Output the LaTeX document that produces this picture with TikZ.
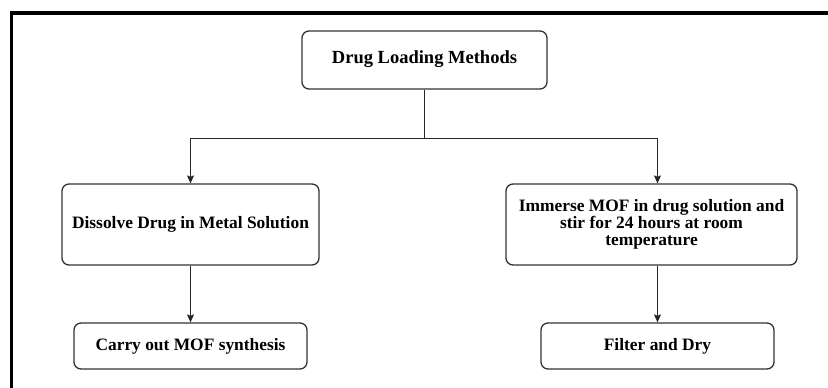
\documentclass[tikz,border=0pt]{standalone}
\usepackage{fontspec}
\setmainfont{Liberation Serif}
\usetikzlibrary{arrows.meta,calc}
\begin{document}
\begin{tikzpicture}[x=1pt,y=-1pt,
  box/.style={draw=black!80,line width=1.3pt,rounded corners=7pt,fill=white,align=center,
    font=\fontsize{17.4}{16.7}\selectfont\bfseries,inner sep=0pt},
  arrow/.style={draw=black!85,line width=1pt,-{Stealth[length=8pt,width=7pt,inset=1.5pt]}},
  link/.style={draw=black!85,line width=1pt}]
\useasboundingbox (0,0) rectangle (828,388);
% frame
\draw[line width=3.5pt,line cap=rect] (11.5,388) -- (11.5,13) -- (828,13);
% nodes
\node[box,minimum width=245pt,minimum height=58pt] (top) at (424.5,60)
  {\fontsize{18.5}{18}\selectfont\raisebox{5pt}{Drug Loading Methods}};
\node[box,minimum width=257pt,minimum height=81pt] (l2) at (190.5,224.5)
  {Dissolve Drug in Metal Solution};
\node[box,minimum width=291pt,minimum height=81pt] (r2) at (651.5,224.5)
  {Immerse MOF in drug solution and\\stir for 24 hours at room\\temperature};
\node[box,minimum width=233pt,minimum height=46pt] (l3) at (190.5,346)
  {Carry out MOF synthesis};
\node[box,minimum width=233pt,minimum height=46pt] (r3) at (657.5,346)
  {Filter and Dry};
\coordinate (j) at (424.5,138);
% connectors
\draw[link] (top.south) -- (j);
\draw[arrow] (j) -| (l2.north);
\draw[arrow] (j) -| (r3.north |- r2.north);
\draw[arrow] (l2.south) -- (l3.north);
\draw[arrow] (r3.north |- r2.south) -- (r3.north);
\end{tikzpicture}
\end{document}
